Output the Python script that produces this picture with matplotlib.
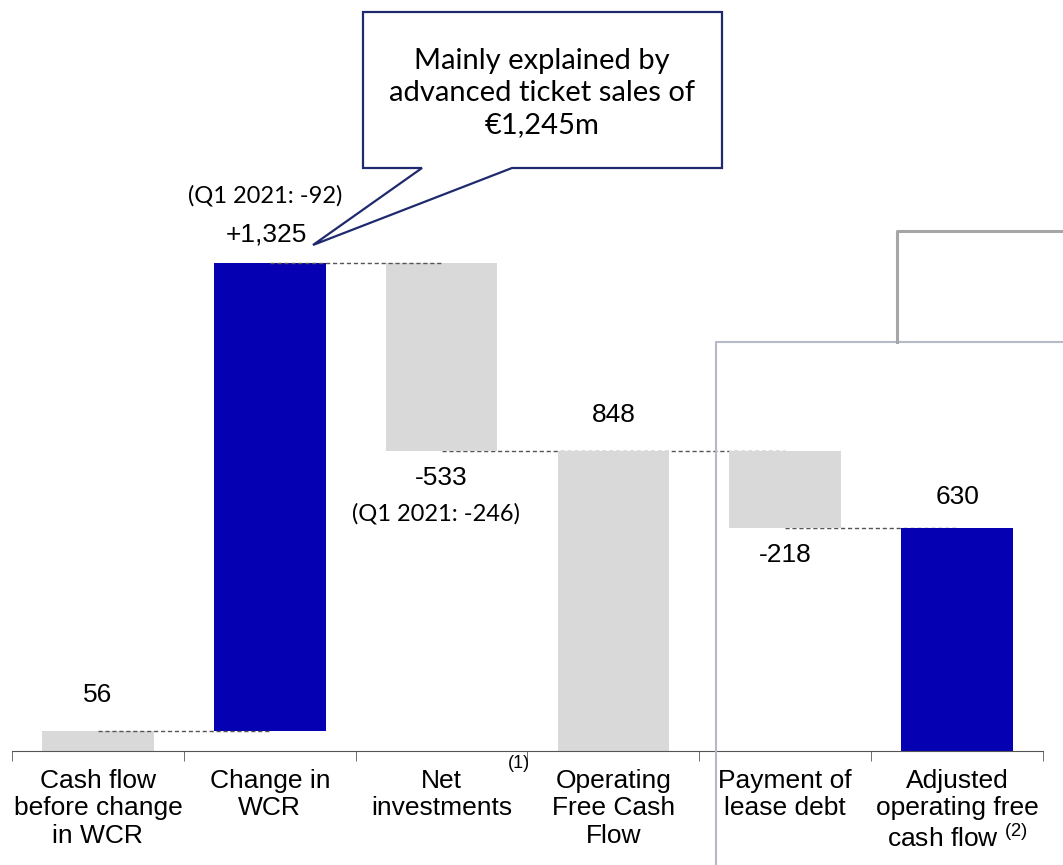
import matplotlib
matplotlib.use("Agg")
import matplotlib.pyplot as plt
from matplotlib.patches import Polygon
from matplotlib.lines import Line2D

# data
categories = ["Cash flow\nbefore change\nin WCR", "Change in\nWCR", "Net\ninvestments",
              "Operating\nFree Cash\nFlow", "Payment of\nlease debt",
              "Adjusted\noperating free\ncash flow $^{\\rm (2)}$"]
steps = [56, 1325, -533, None, -218, None]      # None = total bar
value_labels = ["56", "+1,325", "-533", "848", "-218", "630"]
bar_colors = ["#d9d9d9", "#0600b3", "#d9d9d9", "#d9d9d9", "#d9d9d9", "#0600b3"]
q1_notes = {1: "(Q1 2021: -92)", 2: "(Q1 2021: -246)"}
callout_text = "Mainly explained by\nadvanced ticket sales of\n\u20ac1,245m"

W, H = 1063, 865
ARIAL = "Liberation Sans"
CALIBRI = ["Lato", "DejaVu Sans"]
plt.rcParams["mathtext.fontset"] = "custom"
plt.rcParams["mathtext.rm"] = ARIAL

fig = plt.figure(figsize=(W / 100, H / 100), dpi=100)
ymax = 1950
px_per_unit = 0.3534
ax = fig.add_axes([12 / W, (H - 751) / H, (1043 - 12) / W, ymax * px_per_unit / H])

def fx(px):
    return px / W

def fy(py):
    return 1 - py / H

# compute waterfall
bottoms, heights, tops = [], [], []
running = 0
for s in steps:
    if s is None:
        bottoms.append(0)
        heights.append(running)
    else:
        new = running + s
        bottoms.append(min(running, new))
        heights.append(abs(s))
        running = new
    tops.append(running)

x = list(range(len(categories)))
ax.bar(x, heights, bottom=bottoms, width=0.65, color=bar_colors, zorder=2)

# dashed connectors
dash = dict(ls=(0, (3, 2)), color="#555555", lw=1)
ax.plot([0, 1], [tops[0], tops[0]], zorder=3, **dash)
ax.plot([1, 2], [tops[1], tops[1]], zorder=3, **dash)
ax.plot([2, 4], [tops[2], tops[2]], zorder=1, **dash)
ax.plot([4, 5], [tops[4], tops[4]], zorder=1, **dash)

# value labels (offsets in pixels)
label_off = [36, 28, 27, 36, 27, 31]
for i, lab in enumerate(value_labels):
    s = steps[i]
    if s is not None and s < 0:
        ax.annotate(lab, (i, bottoms[i]), xytext=(0, -label_off[i]), textcoords="offset pixels",
                    ha="center", va="center", fontsize=19, family=ARIAL)
    else:
        top = bottoms[i] + heights[i]
        ax.annotate(lab, (i, top), xytext=(-3 if i == 1 else 0, label_off[i]),
                    textcoords="offset pixels",
                    ha="center", va="center", fontsize=19, family=ARIAL)

ax.annotate(q1_notes[1], (1, tops[1]), xytext=(-5, 67), textcoords="offset pixels",
            ha="center", va="center", fontsize=17, family=CALIBRI)
ax.annotate(q1_notes[2], (2, tops[2]), xytext=(-6, -62), textcoords="offset pixels",
            ha="center", va="center", fontsize=17, family=CALIBRI)

# axes styling
ax.set_xlim(-0.5, len(categories) - 0.5)
ax.set_ylim(0, ymax)
for side in ["top", "right", "left"]:
    ax.spines[side].set_visible(False)
ax.spines["bottom"].set_color("#555555")
ax.set_yticks([])
ax.set_xticks(x)
ax.set_xticklabels(categories, fontsize=19, family=ARIAL, linespacing=1.17)
ax.tick_params(axis="x", which="major", length=0, pad=13)
ax.set_xticks([i - 0.5 for i in range(len(categories) + 1)], minor=True)
ax.tick_params(axis="x", which="minor", length=7, color="#555555", direction="out")

fig.text(fx(519), fy(763), "(1)", ha="center", va="center", fontsize=13, family=ARIAL)

# callout box
callout = Polygon([(fx(363), fy(12)), (fx(722), fy(12)), (fx(722), fy(168)),
                   (fx(512), fy(168)), (fx(313), fy(245)), (fx(422), fy(168)),
                   (fx(363), fy(168))], closed=True, transform=fig.transFigure,
                  facecolor="white", edgecolor="#1f2a6e", lw=1.6, zorder=5)
fig.patches.append(callout)
fig.text(fx(542), fy(93), callout_text, ha="center", va="center", fontsize=21,
         family=CALIBRI, linespacing=1.3, zorder=6)

# grey brackets on the right
fig.add_artist(Line2D([fx(716), fx(716), fx(1063)], [fy(865), fy(342), fy(342)],
                      transform=fig.transFigure, color="#b6b9c6", lw=1.5))
fig.add_artist(Line2D([fx(897), fx(897), fx(1063)], [fy(342), fy(231), fy(231)],
                      transform=fig.transFigure, color="#a6a6a6", lw=2.2))

fig.savefig("out.png", dpi=100)
